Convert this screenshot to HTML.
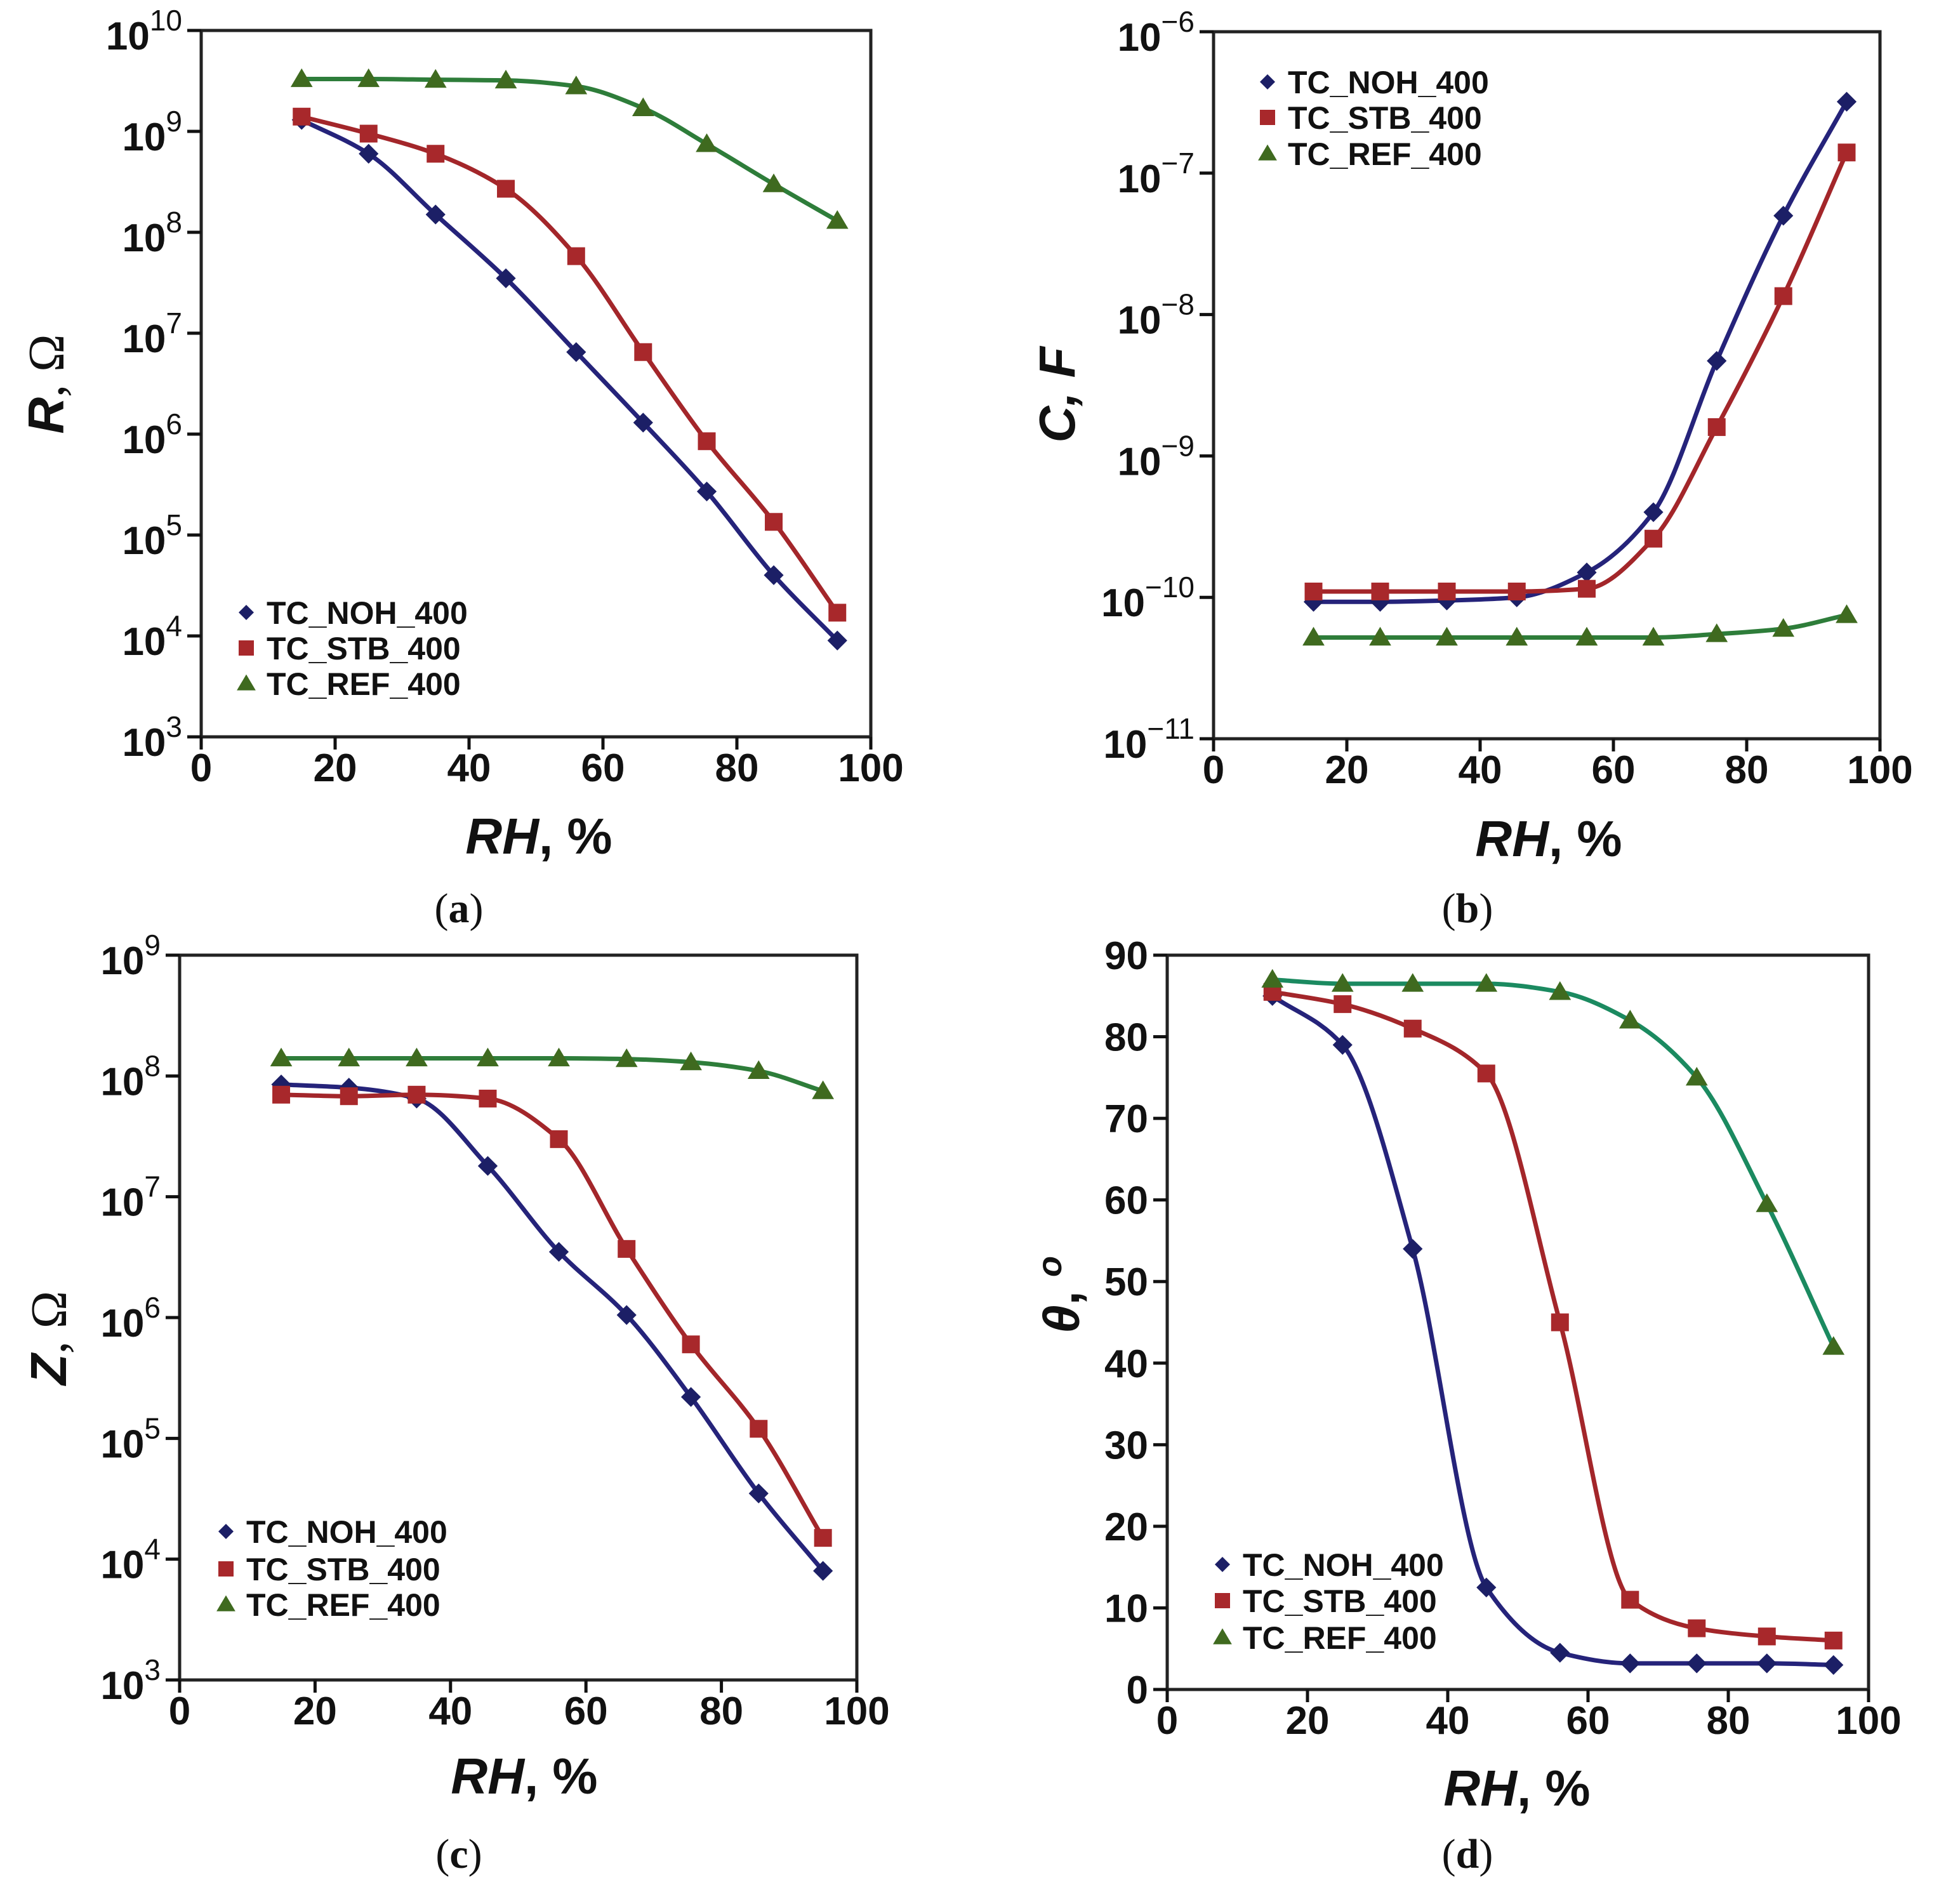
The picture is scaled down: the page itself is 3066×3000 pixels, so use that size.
<!DOCTYPE html>
<html><head><meta charset="utf-8">
<style>
html,body{margin:0;padding:0;background:#fff;}
svg{display:block;}
text{font-family:"Liberation Sans",Arial,sans-serif;fill:#111;}
.serif{font-family:"Liberation Serif",serif;}
</style></head>
<body>
<svg id="fig" width="3066" height="3000" viewBox="0 0 3066 3000" xmlns="http://www.w3.org/2000/svg">
<rect x="0" y="0" width="3066" height="3000" fill="#fff"/>
</svg>
<script>
const rhValues = [15, 25, 35, 45.5, 56, 66, 75.5, 85.5, 95];
const seriesNames = ["TC_NOH_400", "TC_STB_400", "TC_REF_400"];
const xTicks = [0, 20, 40, 60, 80, 100];

const aNOH = [1.3e9, 6e8, 1.5e8, 3.5e7, 6.5e6, 1.3e6, 2.7e5, 4e4, 9e3];
const aSTB = [1.4e9, 9.5e8, 6e8, 2.7e8, 5.8e7, 6.5e6, 8.5e5, 1.35e5, 1.7e4];
const aREF = [3.3e9, 3.3e9, 3.25e9, 3.2e9, 2.8e9, 1.7e9, 7.5e8, 3e8, 1.3e8];
const aTicks = [3, 4, 5, 6, 7, 8, 9, 10];

const bNOH = [9.3e-11, 9.3e-11, 9.5e-11, 1e-10, 1.5e-10, 4e-10, 4.7e-9, 5e-8, 3.2e-7];
const bSTB = [1.1e-10, 1.1e-10, 1.1e-10, 1.1e-10, 1.15e-10, 2.6e-10, 1.6e-9, 1.35e-8, 1.4e-7];
const bREF = [5.2e-11, 5.2e-11, 5.2e-11, 5.2e-11, 5.2e-11, 5.2e-11, 5.5e-11, 6e-11, 7.5e-11];
const bTicks = [-11, -10, -9, -8, -7, -6];

const cNOH = [8.5e7, 8e7, 6.5e7, 1.8e7, 3.5e6, 1.05e6, 2.2e5, 3.5e4, 8e3];
const cSTB = [7e7, 6.8e7, 7e7, 6.5e7, 3e7, 3.7e6, 6e5, 1.2e5, 1.5e4];
const cREF = [1.4e8, 1.4e8, 1.4e8, 1.4e8, 1.4e8, 1.38e8, 1.3e8, 1.1e8, 7.5e7];
const cTicks = [3, 4, 5, 6, 7, 8, 9];

const dNOH = [85, 79, 54, 12.5, 4.5, 3.2, 3.2, 3.2, 3];
const dSTB = [85.5, 84, 81, 75.5, 45, 11, 7.5, 6.5, 6];
const dREF = [87, 86.5, 86.5, 86.5, 85.5, 82, 75, 59.5, 42];
const dTicks = [0, 10, 20, 30, 40, 50, 60, 70, 80, 90];

const NS = "http://www.w3.org/2000/svg";
const fig = document.getElementById("fig");
const colors = {mk:["#1c1f66","#a8282b","#3f6a1f"], ln:["#25237a","#a3262a","#2e7d3a"]};

function mk(tag, attrs, parent){
  const e = document.createElementNS(NS, tag);
  for (const k in attrs) e.setAttribute(k, attrs[k]);
  (parent||fig).appendChild(e);
  return e;
}
function spline(pts){
  const n = pts.length;
  const dx = [], dl = [];
  for (let i=0;i<n-1;i++){ dx.push(pts[i+1][0]-pts[i][0]); dl.push((pts[i+1][1]-pts[i][1])/dx[i]); }
  const m = new Array(n);
  m[0] = dl[0]; m[n-1] = dl[n-2];
  for (let i=1;i<n-1;i++){
    if (dl[i-1]*dl[i] <= 0) m[i] = 0;
    else { const w1 = 2*dx[i]+dx[i-1], w2 = dx[i]+2*dx[i-1]; m[i] = (w1+w2)/(w1/dl[i-1]+w2/dl[i]); }
  }
  let d = "M" + pts[0][0] + "," + pts[0][1];
  for (let i=0;i<n-1;i++){
    const h = dx[i]/3;
    d += " C"+(pts[i][0]+h)+","+(pts[i][1]+m[i]*h)+" "+(pts[i+1][0]-h)+","+(pts[i+1][1]-m[i+1]*h)+" "+pts[i+1][0]+","+pts[i+1][1];
  }
  return d;
}
function marker(g, kind, x, y, col, s){
  let e;
  if (kind===0){ e = mk("polygon",{points:(x)+","+(y-s*0.6)+" "+(x+s*0.6)+","+y+" "+x+","+(y+s*0.6)+" "+(x-s*0.6)+","+y, fill:col}, g); }
  else if (kind===1){ e = mk("rect",{x:x-s/2,y:y-s/2,width:s,height:s,fill:col}, g); }
  else { e = mk("polygon",{points:x+","+(y-s*0.6)+" "+(x+s*0.62)+","+(y+s*0.45)+" "+(x-s*0.62)+","+(y+s*0.45), fill:col}, g); }
  return e;
}

function panel(cfg){
  const g = mk("g",{});
  
  
  const L=cfg.L,R=cfg.R,T=cfg.T,B=cfg.B;
  const xs = v => L + (v-0)/100*(R-L);
  const ys = cfg.log ? (v => B - (Math.log10(v)-cfg.ymin)/(cfg.ymax-cfg.ymin)*(B-T))
                     : (v => B - (v-cfg.ymin)/(cfg.ymax-cfg.ymin)*(B-T));
  const frame = mk("rect",{x:L,y:T,width:R-L,height:B-T,fill:"none",stroke:"#222","stroke-width":5}, g);
  
  
  xTicks.forEach(t=>{
    const x = xs(t);
    const tk = mk("line",{x1:x,y1:B,x2:x,y2:B+20,stroke:"#111","stroke-width":5}, g);
    
    
    const tl = mk("text",{x:x,y:B+70,"text-anchor":"middle","font-size":62,"font-weight":"bold"}, g);
    tl.textContent = t;
    
    
  });
  cfg.ticks.forEach(t=>{
    const y = cfg.log ? B - (t-cfg.ymin)/(cfg.ymax-cfg.ymin)*(B-T) : ys(t);
    const tk = mk("line",{x1:L-22,y1:y,x2:L,y2:y,stroke:"#111","stroke-width":5}, g);
    
    
    const tl = mk("text",{x:L-30,y:y+(cfg.log?30:22),"text-anchor":"end","font-size":62,"font-weight":"bold"}, g);
    
    
    if (cfg.log){
      const exp = (t<0 ? "\u2212"+(-t) : ""+t);
      tl.innerHTML = '<tspan>10</tspan><tspan dy="-30" font-size="46" font-weight="normal">'+exp+'</tspan>';
    } else tl.textContent = t;
  });
  cfg.series.forEach((arr,si)=>{
    const pts = rhValues.map((x,i)=>[xs(x), ys(arr[i])]);
    const line = mk("path",{d:spline(pts),fill:"none",stroke:(si===2&&cfg.teal)?"#1b8a60":colors.ln[si],"stroke-width":7,"stroke-linejoin":"round"}, g);
    
    
    pts.forEach(p=>{
      const m = marker(g, si, p[0], p[1], colors.mk[si], si===0?26:28);
      
      
    });
  });
  const lg = mk("g",{}, g);
  
  
  seriesNames.forEach((n,i)=>{
    const y = cfg.legY[i];
    const m = marker(lg, i, cfg.legX, y, colors.mk[i], i===0?20:24);
    
    
    const t = mk("text",{x:cfg.legX+32,y:y+18,"font-size":50,"font-weight":"bold"}, lg);
    t.textContent = n;
    
    
  });
  const xt = mk("text",{x:cfg.xt[0],y:cfg.xt[1],"text-anchor":"middle","font-size":80,"font-weight":"bold","font-style":"italic"}, g);
  xt.innerHTML = 'RH<tspan font-style="normal">, %</tspan>';
  
  
  const yt = mk("text",{x:0,y:0,"text-anchor":"middle","font-size":80,"font-weight":"bold",transform:"translate("+cfg.yt[0]+","+cfg.yt[1]+") rotate(-90)"}, g);
  yt.innerHTML = cfg.ytitle;
  
  
  const pl = mk("text",{x:cfg.pl[0],y:cfg.pl[1],"text-anchor":"middle","font-size":66,"class":"serif"}, g);
  pl.innerHTML = '(<tspan font-weight="bold">'+cfg.label+'</tspan>)';
  
  
}

panel({name:"panel-a-resistance",L:317,R:1372,T:48,B:1161,log:true,ymin:3,ymax:10,ticks:aTicks,
  series:[aNOH,aSTB,aREF],legX:388,legY:[965,1021,1077],xt:[849,1345],yt:[100,605],
  ytitle:'<tspan font-style="italic">R</tspan><tspan font-weight="normal" class="serif">, Ω</tspan>',pl:[723,1453],label:"a"});
panel({name:"panel-b-capacitance",L:1912,R:2962,T:50,B:1164,log:true,ymin:-11,ymax:-6,ticks:bTicks,
  series:[bNOH,bSTB,bREF],legX:1997,legY:[129,185,242],xt:[2440,1349],yt:[1693,622],
  ytitle:'<tspan font-style="italic">C, F</tspan>',pl:[2312,1453],label:"b"});
panel({name:"panel-c-impedance",L:283,R:1350,T:1505,B:2647,log:true,ymin:3,ymax:9,ticks:cTicks,
  series:[cNOH,cSTB,cREF],legX:356,legY:[2413,2472,2528],xt:[826,2826],yt:[104,2108],
  ytitle:'<tspan font-style="italic">Z</tspan><tspan font-weight="normal" class="serif">, Ω</tspan>',pl:[723,2943],label:"c"});
panel({name:"panel-d-phase-angle",L:1839,R:2944,T:1505,B:2662,log:false,ymin:0,ymax:90,ticks:dTicks,teal:true,
  series:[dNOH,dSTB,dREF],legX:1926,legY:[2465,2522,2580],xt:[2390,2845],yt:[1700,2040],
  ytitle:'<tspan font-style="italic">θ</tspan>, <tspan dy="-28" font-size="54" font-style="italic">o</tspan>',pl:[2312,2943],label:"d"});
</script>
</body></html>
